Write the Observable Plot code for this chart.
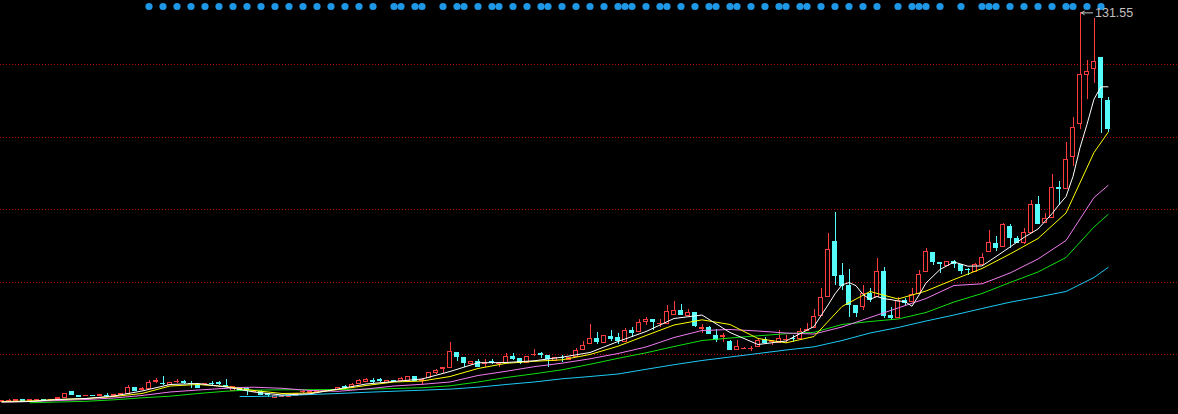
<!DOCTYPE html>
<html><head><meta charset="utf-8">
<script src="https://cdn.jsdelivr.net/npm/d3@7"></script>
<script src="https://cdn.jsdelivr.net/npm/@observablehq/plot@0.6"></script>
<style>html,body{margin:0;padding:0;background:#000;overflow:hidden}</style>
</head><body><div id="chart"></div>
<script>
// Daily OHLC (candle index = position in arrays)
const open=[2.0,2.23,2.33,2.5,2.33,2.5,2.52,2.5,2.83,3.23,
5.33,4.0,3.83,3.85,4.0,4.0,3.77,4.33,4.43,6.43,
6.0,6.1,8.67,8.0,7.67,8.5,8.43,8.0,7.67,7.83,
8.0,8.1,7.33,5.67,6.57,6.1,5.1,5.1,4.43,3.1,
3.43,3.57,4.0,5.1,4.77,5.17,5.5,5.83,5.9,6.77,
6.57,7.9,8.43,9.0,9.1,8.33,9.0,8.77,9.0,10.1,
9.0,9.9,11.43,12.9,13.23,18.23,16.57,14.57,15.1,14.67,
15.17,14.43,15.0,16.77,16.17,14.83,17.47,18.0,17.33,15.67,
16.67,15.77,16.77,19.17,21.23,22.77,21.57,23.67,23.23,22.0,
25.67,25.1,28.43,29.33,27.8,27.9,30.9,32.33,30.57,31.57,
26.33,26.57,24.0,23.57,22.0,19.23,19.47,19.47,20.33,22.57,
21.9,21.43,22.47,23.0,22.9,25.43,26.67,30.43,37.0,55.33,
44.0,40.67,33.9,33.43,37.9,36.77,45.1,30.43,29.9,35.43,
35.1,37.9,45.33,51.43,48.23,47.33,48.43,47.67,46.0,45.1,
47.67,51.77,54.57,53.5,60.33,56.1,54.77,58.33,67.67,61.43,
63.23,73.23,72.9,83.43,94.57,110.83,112.77,116.43,102.1];
const high=[2.5,2.83,2.83,2.67,2.83,2.83,2.83,2.83,3.33,4.5,
5.5,4.17,4.1,4.0,4.17,4.57,4.23,4.57,7.33,6.57,
6.67,9.0,9.57,10.33,8.5,9.23,9.0,8.83,7.83,8.0,
8.67,8.57,9.33,6.9,6.67,6.57,5.83,5.67,4.77,3.9,
3.9,3.83,4.83,5.67,5.5,5.67,5.67,6.0,6.77,7.33,
8.1,9.23,9.77,9.77,9.77,9.0,9.17,10.1,10.33,10.43,
9.67,11.67,12.57,13.1,21.57,18.33,16.67,15.23,15.9,16.0,
16.0,14.77,17.9,17.9,16.23,17.17,19.33,18.43,17.33,16.57,
17.33,16.57,19.57,21.9,27.67,25.0,24.17,25.67,24.77,26.23,
26.57,29.23,30.1,29.5,29.23,34.0,35.33,34.33,32.57,31.67,
27.67,27.0,25.9,24.77,22.33,22.33,20.1,20.33,23.1,23.23,
22.33,25.67,24.0,24.0,26.43,28.1,32.67,39.57,57.9,65.1,
47.9,45.9,34.0,40.67,39.57,49.57,46.77,33.43,36.77,36.23,
39.57,45.67,52.9,51.57,48.43,48.57,49.0,47.83,46.23,48.1,
51.23,59.0,57.0,61.5,61.0,57.0,59.67,69.0,70.33,64.57,
77.67,75.33,88.43,96.77,131.55,115.67,129.57,116.5,103.43];
const low=[1.83,2.0,2.17,2.0,2.0,2.17,2.17,2.17,2.67,3.17,
3.9,3.5,3.67,3.67,3.67,3.43,3.67,4.0,4.33,5.5,
5.67,6.0,7.9,7.23,7.5,7.9,7.67,6.33,6.5,7.5,
7.0,7.33,6.67,5.5,5.5,4.1,5.0,3.9,3.43,3.0,
3.33,3.33,3.83,4.77,4.67,5.0,5.33,5.5,5.77,5.9,
6.43,7.77,8.33,7.9,8.43,7.9,8.33,8.67,8.83,8.67,
7.33,9.77,11.0,11.23,13.1,15.43,13.33,14.0,13.5,13.43,
14.23,13.43,14.83,15.67,14.23,14.67,17.0,16.43,13.43,15.57,
15.1,15.67,16.67,19.0,21.0,21.0,21.33,22.0,21.0,21.83,
23.43,25.0,27.33,25.67,26.57,27.67,30.67,30.67,30.33,26.77,
24.57,24.33,21.77,21.77,19.0,19.0,19.23,18.77,20.17,21.23,
20.67,21.33,21.23,21.77,22.77,25.33,26.5,30.33,36.83,40.67,
39.0,29.9,29.9,32.33,35.1,36.67,29.57,29.0,29.77,34.0,
35.0,37.77,45.17,47.33,44.57,47.17,46.23,44.33,44.0,45.0,
47.5,51.67,52.1,53.33,52.9,54.57,54.23,58.17,61.0,61.33,
63.1,67.33,72.77,80.33,92.57,102.67,108.1,91.43,91.67];
const close=[2.33,2.33,2.67,2.17,2.35,2.52,2.5,2.52,3.17,4.43,
4.1,3.67,3.85,3.83,4.02,3.77,4.1,4.5,6.43,5.67,
6.17,8.23,8.83,7.77,8.33,8.67,8.23,7.77,6.67,7.85,
7.77,7.9,6.77,6.77,5.67,5.83,5.67,4.1,4.23,3.77,
3.77,3.58,4.67,5.33,5.33,5.57,5.52,5.85,6.57,6.57,
7.57,8.77,9.23,8.67,8.9,8.83,8.43,9.43,10.1,8.77,
9.23,11.43,12.33,13.1,18.67,16.77,14.83,15.1,13.67,14.9,
15.0,14.67,17.0,16.17,14.77,17.0,17.67,17.57,16.17,16.43,
16.43,16.43,18.9,20.6,22.9,21.77,24.0,22.9,22.1,25.43,
24.9,28.23,29.33,28.43,28.0,32.0,32.33,30.9,31.57,27.33,
26.5,24.57,22.67,23.73,19.23,20.1,19.67,19.67,22.33,21.67,
22.07,22.9,22.67,22.8,25.33,25.9,30.33,36.67,52.57,44.0,
40.67,34.33,31.43,37.9,36.0,45.33,30.67,29.9,35.67,34.9,
37.67,44.33,51.77,48.43,47.9,48.43,47.9,45.67,45.8,47.67,
49.9,55.0,53.17,61.0,56.5,54.77,58.23,67.67,61.23,62.9,
73.1,73.0,82.67,93.23,111.0,112.0,115.33,103.1,92.9];

const ma5Idx=[0,4,8,12,16,20,24,28,32,34,36,40,44,48,52,56,60,64,68,72,76,80,84,88,92,96,100,104,108,112,116,
118,119,120,121,122,123,124,125,126,127,128,129,130,131,132,134,136,138,140,142,144,146,148,150,151,152,153,154,155,156,157,158];
const ma5=[1.83,2.0,2.67,3.0,3.83,5.5,7.67,8.0,6.83,6.0,5.17,4.17,4.57,6.17,7.83,8.67,9.5,12.0,14.9,15.0,15.57,16.77,18.33,22.0,25.33,29.67,30.83,25.0,21.0,22.17,27.0,
34.16,37.89,40.85,41.65,40.6,37.67,36.07,37.0,36.27,35.96,35.5,35.3,33.76,37.5,41.5,46.0,48.5,47.1,47.2,50.3,53.5,56.7,59.5,64.6,67.6,70.3,77.0,86.6,94.4,102.8,106.9,106.9];
const maIdx=[0,4,8,12,16,20,24,28,32,34,36,40,44,48,52,56,60,64,68,72,76,80,84,88,92,96,100,104,108,112,116,120,124,128,132,136,140,144,148,152,156,158];
const ma10=[2.0,2.17,2.67,3.0,3.67,4.67,7.17,7.67,7.0,6.33,5.67,4.67,4.83,6.0,7.33,8.5,8.83,10.33,13.0,14.73,15.4,15.9,17.67,20.43,24.0,27.5,29.23,27.67,23.0,21.57,23.67,33.67,38.67,36.17,38.83,42.67,46.33,51.17,56.33,64.83,85.0,91.67];
const ma20=[1.83,2.0,2.33,2.67,3.17,4.0,5.17,5.83,6.4,6.67,6.77,6.4,5.67,5.4,6.17,7.17,7.73,8.5,10.67,12.07,13.6,14.77,16.23,18.0,20.17,23.33,25.67,26.0,25.5,24.83,24.5,26.83,30.0,33.17,36.33,40.67,41.23,44.83,49.5,55.67,70.0,74.0];
const ma30=[null,1.57,1.83,2.07,2.57,3.23,3.77,4.67,5.43,5.67,5.8,5.9,5.93,6.0,6.1,6.33,6.6,7.23,8.5,10.0,11.23,12.57,14.4,16.4,18.23,20.33,22.33,23.17,23.9,24.6,25.07,27.67,28.67,29.5,31.67,35.17,38.0,41.67,45.17,50.0,60.17,64.33];
const ma60=[null,null,null,null,null,null,null,null,null,3.67,3.67,3.9,4.33,4.67,5.07,5.43,5.77,6.13,6.77,7.67,8.5,9.57,10.33,11.17,12.73,14.27,15.67,16.83,18.0,19.17,20.23,22.33,24.83,26.67,28.83,30.83,33.0,35.1,36.83,38.67,43.33,46.67];

// Signal dots along the top (candle indices)
const dotIdx=[21,23,25,27,29,31,33,35,37,39,41,43,45,47,49,51,53,56,57,59,60,63,65,66,68,70,71,73,75,77,78,80,82,84,86,88,89,90,92,94,95,97,99,101,102,104,105,107,109,111,112,114,115,117,119,121,123,125,128,130,131,132,134,137,140,141,142,144,146,148,150,152,153,155,157];

// Horizontal reference lines
const gridVals=[17.57,41.73,65.9,90.07,114.2];

const candles=open.map((o,i)=>({i,open:o,high:high[i],low:low[i],close:close[i],up:close[i]>=o}));
const maxI=d3.maxIndex(high);
const peak=[{i:maxI,v:high[maxI]}];
const RED="#ff3c3c", CYAN="#54fcfc";
const series=(idx,vals)=>idx.map((i,k)=>({i,v:vals[k]}));
const lineOpts=(c)=>({x:"i",y:"v",stroke:c,strokeWidth:1,defined:d=>d.v!=null});

const chart=Plot.plot({
  width:1178,height:414,margin:0,
  style:{background:"#000",display:"block"},
  x:{domain:[-1.5/7,(1178-1.5)/7],axis:null},
  y:{domain:[-2.33,135.67],axis:null},
  color:{type:"identity"},
  marks:[
    Plot.ruleY(gridVals,{stroke:"#b00000",strokeDasharray:"1,2",shapeRendering:"crispEdges"}),
    Plot.ruleX(candles,{x:"i",y1:"low",y2:"high",stroke:d=>d.up?RED:CYAN,shapeRendering:"crispEdges"}),
    Plot.rect(candles,{x1:d=>d.i-2/7,x2:d=>d.i+2/7,y1:"open",y2:"close",fill:d=>d.up?"#000":CYAN,stroke:d=>d.up?RED:CYAN,shapeRendering:"crispEdges"}),
    Plot.line(series(maIdx,ma60),lineOpts("#1ec8f5")),
    Plot.line(series(maIdx,ma30),lineOpts("#10e010")),
    Plot.line(series(maIdx,ma20),lineOpts("#f07cf0")),
    Plot.line(series(maIdx,ma10),lineOpts("#ffff00")),
    Plot.line(series(ma5Idx,ma5),lineOpts("#ffffff")),
    Plot.dot(dotIdx,{x:d=>d,frameAnchor:"top",dy:6,r:3.6,fill:"#1e98e6",stroke:"none"}),
    Plot.arrow(peak,{x1:d=>d.i+1.8,x2:d=>d.i+0.2,y1:"v",y2:"v",stroke:"#c8c8c8",strokeWidth:1,headLength:5}),
    Plot.text(peak,{x:"i",y:"v",text:d=>d.v.toFixed(2),dx:15,textAnchor:"start",fill:"#c0c0c0",fontSize:12.5,fontFamily:"Liberation Sans, Arial, sans-serif"})
  ]
});
document.getElementById("chart").appendChild(chart);
</script></body></html>
